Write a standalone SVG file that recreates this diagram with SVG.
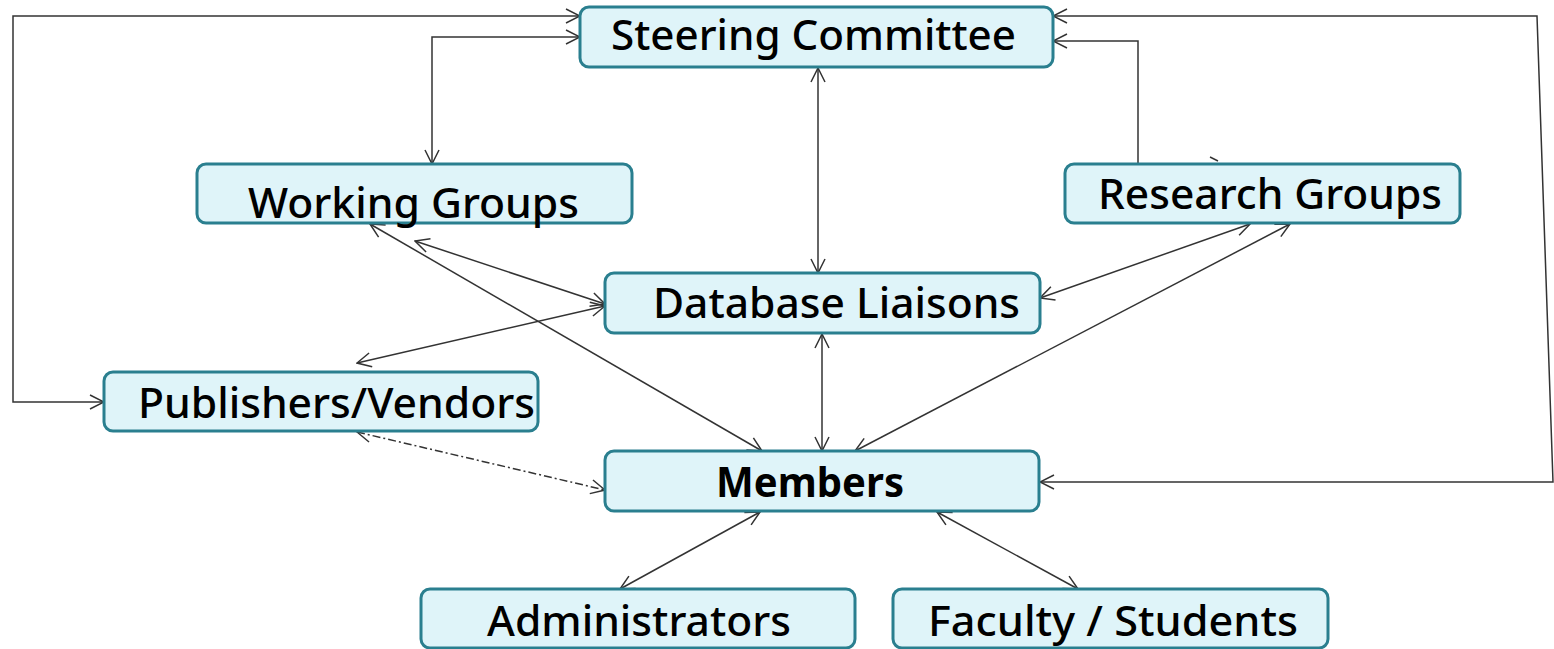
<svg xmlns="http://www.w3.org/2000/svg" width="1554" height="649" viewBox="0 0 1554 649">
<defs>
<style>
.box{fill:#dff4f9;stroke:#2a7f8f;stroke-width:3}
.lbl{font-family:"Noto Sans","Liberation Sans",sans-serif;font-size:41px;font-weight:500;fill:#000}
.bold{font-weight:bold}
.c{fill:none;stroke:#333;stroke-width:1.5}
.dd{stroke-dasharray:8 3 2 3}
</style>
<marker id="a" viewBox="0 0 16 16" refX="15" refY="8" markerWidth="16" markerHeight="16" markerUnits="userSpaceOnUse" orient="auto-start-reverse">
<path d="M1,1 L15,8 L1,15" fill="none" stroke="#333" stroke-width="1.5"/>
</marker>
</defs>
<rect width="1554" height="649" fill="#fff"/>
<g id="connectors">
<path class="c" d="M580,16 H13 V402 H104" marker-start="url(#a)" marker-end="url(#a)"/>
<path class="c" d="M580,37 H432 V164" marker-start="url(#a)" marker-end="url(#a)"/>
<path class="c" d="M818,68 V273" marker-start="url(#a)" marker-end="url(#a)" stroke="#555"/>
<path class="c" d="M1053,16 H1537 L1553,482 H1040" marker-start="url(#a)" marker-end="url(#a)"/>
<path class="c" d="M1138,164 V41 H1053" marker-end="url(#a)"/>
<path class="c" d="M1210,157 L1218,161"/>
<path class="c" d="M370,224 L762,451" marker-start="url(#a)" marker-end="url(#a)"/>
<path class="c" d="M415,241 L605,304" marker-start="url(#a)" marker-end="url(#a)"/>
<path class="c" d="M357,363 L605,306" marker-start="url(#a)" marker-end="url(#a)"/>
<path class="c" d="M1250,224 L1040,298" marker-start="url(#a)" marker-end="url(#a)"/>
<path class="c" d="M1290,224 L855,451" marker-start="url(#a)" marker-end="url(#a)"/>
<path class="c" d="M822,334 V451" marker-start="url(#a)" marker-end="url(#a)"/>
<path class="c dd" d="M357,432 L605,490" marker-start="url(#a)" marker-end="url(#a)"/>
<path class="c" d="M760,512 L620,589" marker-start="url(#a)" marker-end="url(#a)"/>
<path class="c" d="M937,512 L1078,589" marker-start="url(#a)" marker-end="url(#a)"/>
</g>
<g id="steering">
<rect class="box" x="580" y="7" width="473" height="60" rx="9"/>
<text class="lbl" x="611" y="50" textLength="405" lengthAdjust="spacingAndGlyphs">Steering Committee</text>
</g>
<g id="working">
<rect class="box" x="197" y="164" width="435" height="59" rx="9"/>
<text class="lbl" x="248" y="218" textLength="331" lengthAdjust="spacingAndGlyphs">Working Groups</text>
</g>
<g id="research">
<rect class="box" x="1065" y="164" width="395" height="59" rx="9"/>
<text class="lbl" x="1098" y="209" textLength="344" lengthAdjust="spacingAndGlyphs">Research Groups</text>
</g>
<g id="database">
<rect class="box" x="605" y="273" width="435" height="60" rx="9"/>
<text class="lbl" x="653" y="318" textLength="367" lengthAdjust="spacingAndGlyphs">Database Liaisons</text>
</g>
<g id="publishers">
<rect class="box" x="104" y="372" width="434" height="59" rx="9"/>
<text class="lbl" x="138" y="418" textLength="397" lengthAdjust="spacingAndGlyphs">Publishers/Vendors</text>
</g>
<g id="members">
<rect class="box" x="605" y="451" width="434" height="60" rx="9"/>
<text class="lbl bold" x="716" y="497" textLength="188" lengthAdjust="spacingAndGlyphs">Members</text>
</g>
<g id="administrators">
<rect class="box" x="421" y="589" width="434" height="59" rx="9"/>
<text class="lbl" x="487" y="636" textLength="304" lengthAdjust="spacingAndGlyphs">Administrators</text>
</g>
<g id="faculty">
<rect class="box" x="893" y="589" width="435" height="59" rx="9"/>
<text class="lbl" x="928" y="636" textLength="370" lengthAdjust="spacingAndGlyphs">Faculty / Students</text>
</g>
</svg>
